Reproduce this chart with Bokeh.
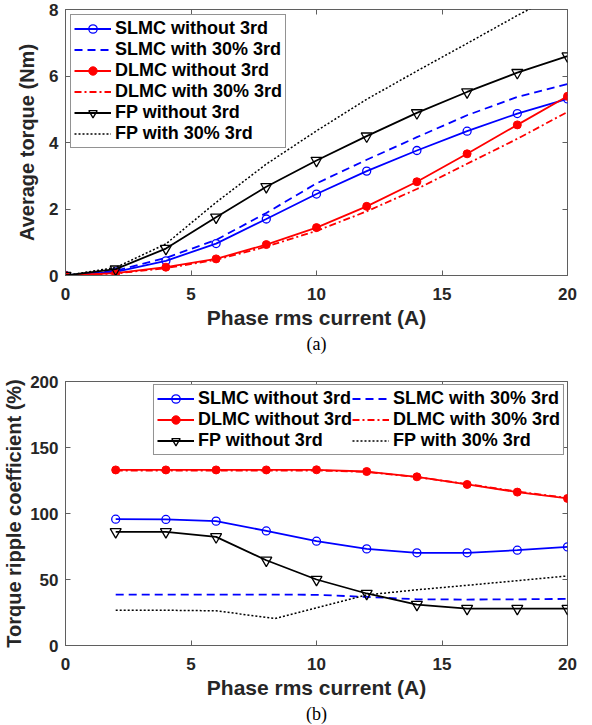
from bokeh.plotting import figure
from bokeh.models import (Legend, LegendItem, LinearAxis, FixedTicker, Title,
                          Range1d)
from bokeh.layouts import column
from bokeh.embed import file_html
from bokeh.resources import INLINE

# ---------------- data (a): average torque ----------------
current_a = [0, 2, 4, 6, 8, 10, 12, 14, 16, 18, 20]
slmc_avg = [0, 0.11, 0.44, 0.96, 1.70, 2.45, 3.14, 3.76, 4.34, 4.87, 5.31]
slmc3_avg = [0, 0.14, 0.53, 1.07, 1.88, 2.77, 3.48, 4.16, 4.82, 5.37, 5.76]
dlmc_avg = [0, 0.07, 0.25, 0.50, 0.93, 1.44, 2.08, 2.82, 3.66, 4.53, 5.39]
dlmc3_avg = [0, 0.06, 0.22, 0.47, 0.87, 1.34, 1.93, 2.60, 3.36, 4.11, 4.92]
fp_avg = [0, 0.19, 0.81, 1.75, 2.67, 3.46, 4.19, 4.89, 5.52, 6.10, 6.60]
fp3_avg = [0, 0.24, 0.95, 2.20, 3.35, 4.35, 5.30, 6.15, 6.98, 7.82, 8.60]

# ---------------- data (b): torque ripple coefficient ----------------
current_b = [2, 4, 6, 8, 10, 12, 14, 16, 18, 20]
slmc_rip = [95.7, 95.5, 94.2, 86.8, 79.0, 73.2, 70.2, 70.2, 72.2, 74.7]
slmc3_rip = [38.6, 38.6, 38.6, 38.6, 38.4, 36.8, 35.0, 34.8, 35.0, 35.3]
dlmc_rip = [133.0, 133.0, 133.0, 133.0, 133.1, 131.8, 127.8, 122.0, 116.2, 111.4]
dlmc3_rip = [132.5, 132.5, 132.5, 132.5, 132.6, 131.5, 127.6, 122.3, 116.6, 111.8]
fp_rip = [86.1, 86.1, 82.3, 64.6, 50.0, 39.4, 31.0, 28.0, 28.0, 28.0]
current_b_fp3 = [2, 4, 6, 8.35, 10, 12, 14, 16, 18, 20]
fp3_rip = [26.7, 26.7, 26.3, 20.4, 28.5, 38.3, 42.2, 45.6, 49.1, 52.7]

x_ticks = [0, 5, 10, 15, 20]
y_ticks_a = [0, 2, 4, 6, 8]
y_ticks_b = [0, 50, 100, 150, 200]

names = ["SLMC without 3rd", "SLMC with 30% 3rd", "DLMC without 3rd",
         "DLMC with 30% 3rd", "FP without 3rd", "FP with 30% 3rd"]

FONT = "Liberation Sans"
TXT = "#262626"
FRAME = "#5f5f5f"
BLUE, RED, BLACK = "#0000ff", "#ff0000", "#000000"
LW = 1.8


def style_axis(ax, ticks, show_labels=True, standoff=8):
    ax.ticker = FixedTicker(ticks=ticks)
    ax.major_tick_in = 5
    ax.major_tick_out = 0
    ax.minor_tick_line_color = None
    ax.major_tick_line_color = FRAME
    ax.axis_line_color = FRAME
    ax.major_label_text_font = FONT
    ax.major_label_text_font_style = "bold"
    ax.major_label_text_color = TXT
    if show_labels:
        ax.major_label_text_font_size = "17px"
        ax.major_label_standoff = standoff
    else:
        ax.major_label_text_font_size = "0px"
        ax.major_label_standoff = 0
        ax.major_label_overrides = {t: "" for t in ticks}


def make_fig(ymax, yticks, height, top, bottom, ylabel, ylabel_standoff):
    p = figure(width=590, height=height, x_range=Range1d(0, 20),
               y_range=Range1d(0, ymax), output_backend="svg",
               toolbar_location=None, min_border_left=62,
               min_border_right=23, min_border_top=top,
               min_border_bottom=bottom)
    p.xgrid.visible = False
    p.ygrid.visible = False
    p.outline_line_color = FRAME
    p.outline_line_width = 1
    xa = p.below[0]
    ya = p.left[0]
    style_axis(xa, x_ticks, standoff=12)
    style_axis(ya, yticks, standoff=7)
    xa.axis_label = "Phase rms current (A)"
    xa.axis_label_text_font = FONT
    xa.axis_label_text_font_style = "bold"
    xa.axis_label_text_font_size = "21px"
    xa.axis_label_text_color = TXT
    xa.axis_label_standoff = 3
    ya.axis_label = ylabel
    ya.axis_label_text_font = FONT
    ya.axis_label_text_font_style = "bold"
    ya.axis_label_text_font_size = "20px"
    ya.axis_label_text_color = TXT
    ya.axis_label_standoff = ylabel_standoff
    for loc, ticks in (("above", x_ticks), ("right", yticks)):
        ax = LinearAxis()
        style_axis(ax, ticks, show_labels=False)
        ax.axis_line_color = None
        p.add_layout(ax, loc)
    return p


def add_series(p, x, ys):
    s_l = p.line(x, ys[0], line_color=BLUE, line_width=LW)
    s_m = p.scatter(x, ys[0], marker="circle", size=8, line_color=BLUE,
                    fill_color=None, line_width=1.3)
    s3 = p.line(x, ys[1], line_color=BLUE, line_width=LW, line_dash="8 5")
    d_l = p.line(x, ys[2], line_color=RED, line_width=LW)
    d_m = p.scatter(x, ys[2], marker="circle", size=8, line_color=RED,
                    fill_color=RED)
    d3 = p.line(x, ys[3], line_color=RED, line_width=LW, line_dash="7 3 2 3")
    f_l = p.line(x, ys[4], line_color=BLACK, line_width=LW)
    f_m = p.scatter(x, ys[4], marker="inverted_triangle", size=11,
                    line_color=BLACK, fill_color=None, line_width=1.3)
    return [[s_l, s_m], [s3], [d_l, d_m], [d3], [f_l, f_m]]


def legend_style(leg):
    leg.label_text_font = FONT
    leg.label_text_font_style = "bold"
    leg.label_text_font_size = "18px"
    leg.label_text_color = BLACK
    leg.border_line_color = "#262626"
    leg.border_line_width = 1
    leg.background_fill_alpha = 1
    leg.glyph_width = 37
    leg.glyph_height = 21
    leg.label_height = 21
    leg.label_standoff = 4
    leg.spacing = 0
    leg.padding = 3


# ---------------- figure (a) ----------------
p1 = make_fig(8, y_ticks_a, 356, 9, 81, "Average torque (Nm)", 8)
r1 = add_series(p1, current_a,
                [slmc_avg, slmc3_avg, dlmc_avg, dlmc3_avg, fp_avg])
fp3a = p1.line(current_a, fp3_avg, line_color=BLACK, line_width=1.5,
               line_dash="2 2")
r1.append([fp3a])
leg1 = Legend(items=[LegendItem(label=n, renderers=r) for n, r in zip(names, r1)],
              location="top_left", margin=5)
legend_style(leg1)
p1.add_layout(leg1)
p1.add_layout(Title(text="(a)", align="center", text_font="Liberation Serif",
                    text_font_style="normal", text_font_size="18px",
                    text_color=BLACK, standoff=1), "below")

# ---------------- figure (b) ----------------
p2 = make_fig(200, y_ticks_b, 368, 25, 78, "Torque ripple coefficient (%)", 2)
r2 = add_series(p2, current_b,
                [slmc_rip, slmc3_rip, dlmc_rip, dlmc3_rip, fp_rip])
fp3b = p2.line(current_b_fp3, fp3_rip, line_color=BLACK, line_width=1.5,
               line_dash="2 2")
r2.append([fp3b])
order = [0, 2, 4, 1, 3, 5]
leg2 = Legend(items=[LegendItem(label=names[i], renderers=r2[i]) for i in order],
              location="top_right", margin=3, ncols=2)
legend_style(leg2)
p2.add_layout(leg2)
p2.add_layout(Title(text="(b)", align="center", text_font="Liberation Serif",
                    text_font_style="normal", text_font_size="18px",
                    text_color=BLACK, standoff=1), "below")

layout = column(p1, p2)
open("out.html", "w").write(file_html(layout, INLINE))
